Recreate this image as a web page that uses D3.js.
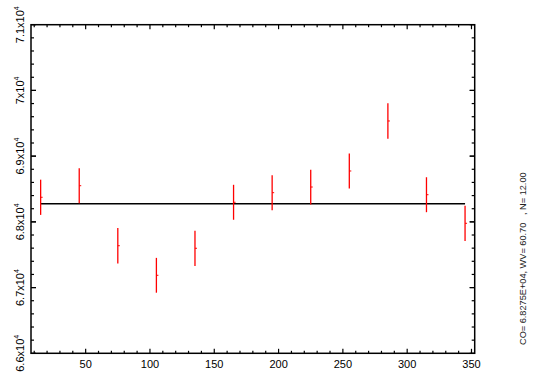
<!DOCTYPE html>
<html><head><meta charset="utf-8">
<script src="https://cdn.jsdelivr.net/npm/d3@7"></script>
<style>body{margin:0;background:#fff}svg{display:block}text{font-family:"Liberation Sans",Arial,sans-serif}</style>
</head><body>
<svg id="c" width="533" height="379"></svg>
<script>
const xVals = [15,45,75,105,135,165,195,225,255,285,315,345];
const yVals = [68374,68550,67637,67187,67598,68298,68444,68530,68774,69535,68413,67978];
const yErrs = [268,267,270,265,268,266,266,264,266,270,266,268];
const meanVal = 68275;
const yTicks = [66000,67000,68000,69000,70000,71000];
const yTickLabels = ["6.6","6.7","6.8","6.9","7","7.1"];
const xTicks = [50,100,150,200,250,300,350];
const infoText = "CO= 6.8275E+04, WV= 60.70   , N= 12.00";

const svg = d3.select("#c");
const L=31, R=474.7, T=24.7, B=353.3;
const x = d3.scaleLinear().domain([7.5,352.5]).range([L,R]);
const y = d3.scaleLinear().domain([66000,71000]).range([B,T]);
const g = svg.append("g");

// frame
g.append("rect").attr("x",L).attr("y",T).attr("width",R-L).attr("height",B-T)
 .attr("fill","none").attr("stroke","#000").attr("stroke-width",1.5);

// x ticks
const xMinor = d3.range(10,351,10);
xMinor.forEach(v=>{
  const major = v%50===0;
  const len = major?4.5:2.5;
  g.append("line").attr("x1",x(v)).attr("x2",x(v)).attr("y1",B).attr("y2",B-len).attr("stroke","#000").attr("stroke-width",1.2);
  g.append("line").attr("x1",x(v)).attr("x2",x(v)).attr("y1",T).attr("y2",T+len).attr("stroke","#000").attr("stroke-width",1.2);
});
xTicks.forEach(v=>{
  g.append("text").attr("x",x(v)).attr("y",B+15).attr("text-anchor","middle").attr("font-size",11).text(v);
});
// y ticks
const yMinor = d3.range(66200,71000,200);
yMinor.concat(yTicks).forEach(v=>{
  const major = v%1000===0;
  const len = major?5:3;
  g.append("line").attr("x1",L).attr("x2",L+len).attr("y1",y(v)).attr("y2",y(v)).attr("stroke","#000").attr("stroke-width",1.2);
  g.append("line").attr("x1",R).attr("x2",R-len).attr("y1",y(v)).attr("y2",y(v)).attr("stroke","#000").attr("stroke-width",1.2);
});
yTicks.forEach((v,i)=>{
  const t = g.append("text").attr("transform",`translate(${L-7},${y(v)}) rotate(-90)`)
   .attr("text-anchor","middle").attr("font-size",11);
  t.append("tspan").text(yTickLabels[i]+"x10");
  t.append("tspan").attr("font-size",7).attr("dy",-5).text("4");
});

// mean line
g.append("line").attr("x1",x(xVals[0])).attr("x2",x(xVals[xVals.length-1]))
 .attr("y1",y(meanVal)).attr("y2",y(meanVal)).attr("stroke","#000").attr("stroke-width",1.5);

// error bars
xVals.forEach((xv,i)=>{
  g.append("line").attr("x1",x(xv)).attr("x2",x(xv)).attr("y1",y(yVals[i]-yErrs[i])).attr("y2",y(yVals[i]+yErrs[i]))
   .attr("stroke","#ff0000").attr("stroke-width",1.3);
  g.append("line").attr("x1",x(xv)).attr("x2",x(xv)+2).attr("y1",y(yVals[i])).attr("y2",y(yVals[i]))
   .attr("stroke","#ff0000").attr("stroke-width",1);
});

// info text
g.append("text").attr("transform",`translate(526,345) rotate(-90)`).attr("text-anchor","start")
 .attr("font-size",9.2).attr("fill","#222").style("white-space","pre").text(infoText);
</script>
</body></html>
